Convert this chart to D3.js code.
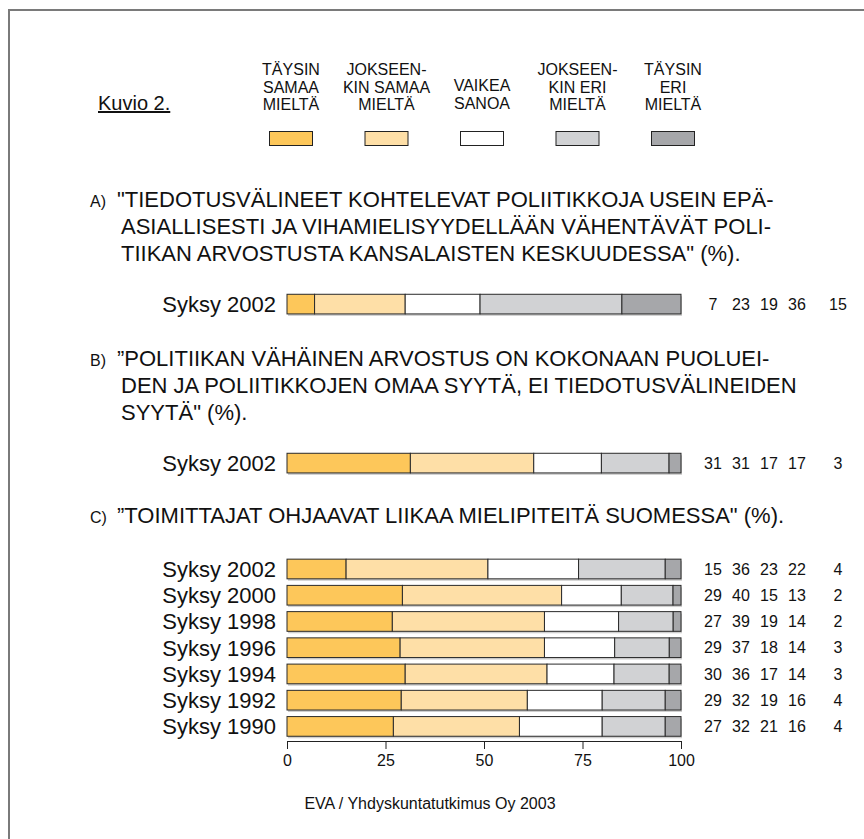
<!DOCTYPE html>
<meta charset="utf-8">
<body style="margin:0;background:#fff">
<svg id="chart" width="864" height="839"></svg>
</body>

<style>
text { font-family: "Liberation Sans", Arial, sans-serif; fill: #111; }
.legend text { font-size: 16px; }
.question text { font-size: 22px; }
.rowlabel { font-size: 22px; }
.num { font-size: 16px; }
.axis text { font-size: 16px; font-family: "Liberation Sans", Arial, sans-serif; fill: #111; }
.axis path, .axis line { stroke: #222; }
</style>

<script src="https://d3js.org/d3.v7.min.js"></script>
<script>

// vastausvaihtoehdot ja värit
var keys = ["taysinSamaa", "jokseenkinSamaa", "vaikea", "jokseenkinEri", "taysinEri"];
var legendLines = [
  ["TÄYSIN", "SAMAA", "MIELTÄ"],
  ["JOKSEEN-", "KIN SAMAA", "MIELTÄ"],
  ["VAIKEA", "SANOA"],
  ["JOKSEEN-", "KIN ERI", "MIELTÄ"],
  ["TÄYSIN", "ERI", "MIELTÄ"]
];
var colors = ["#fdc75a", "#fedfa7", "#ffffff", "#d1d2d4", "#a6a7aa"];

// kysymykset
var questionA = ["\"TIEDOTUSVÄLINEET KOHTELEVAT POLIITIKKOJA USEIN EPÄ-",
                 "ASIALLISESTI JA VIHAMIELISYYDELLÄÄN VÄHENTÄVÄT POLI-",
                 "TIIKAN ARVOSTUSTA KANSALAISTEN KESKUUDESSA\" (%)."];
var questionB = ["\u201dPOLITIIKAN VÄHÄINEN ARVOSTUS ON KOKONAAN PUOLUEI-",
                 "DEN JA POLIITIKKOJEN OMAA SYYTÄ, EI TIEDOTUSVÄLINEIDEN",
                 "SYYTÄ\" (%)."];
var questionC = ["\u201dTOIMITTAJAT OHJAAVAT LIIKAA MIELIPITEITÄ  SUOMESSA\" (%)."];

// data
var yearsA = ["Syksy 2002"];
var valuesA = [[7, 23, 19, 36, 15]];
var yearsB = ["Syksy 2002"];
var valuesB = [[31, 31, 17, 17, 3]];
var yearsC = ["Syksy 2002", "Syksy 2000", "Syksy 1998", "Syksy 1996", "Syksy 1994", "Syksy 1992", "Syksy 1990"];
var valuesC = [
  [15, 36, 23, 22, 4],
  [29, 40, 15, 13, 2],
  [27, 39, 19, 14, 2],
  [29, 37, 18, 14, 3],
  [30, 36, 17, 14, 3],
  [29, 32, 19, 16, 4],
  [27, 32, 21, 16, 4]
];
var ticks = [0, 25, 50, 75, 100];

var svg = d3.select("#chart");

// kehys
svg.append("path")
    .attr("d", "M9,900V10H900")
    .attr("fill", "none")
    .attr("stroke", "#7a7a7a")
    .attr("stroke-width", 2);

var x = d3.scaleLinear().domain([0, 100]).range([287, 681]);
var legendX = d3.scalePoint().domain(keys).range([291, 673]);
// lukujen sarakkeet, viimeinen hieman erillään
var numX = d3.scaleOrdinal().domain(keys).range([713, 741, 769, 797, 838]);

// otsikko
svg.append("text")
    .attr("x", 98).attr("y", 110)
    .style("font-size", "20px")
    .style("text-decoration", "underline")
    .text("Kuvio 2.");

// selite
var leg = svg.append("g").attr("class", "legend");
keys.forEach(function(k, i) {
  var lines = legendLines[i];
  var top = lines.length == 3 ? 75 : 91;
  lines.forEach(function(l, j) {
    leg.append("text")
        .attr("x", legendX(k)).attr("y", top + j * 17.5)
        .attr("text-anchor", "middle")
        .text(l);
  });
  leg.append("rect")
      .attr("x", legendX(k) - 21.5).attr("y", 131.5)
      .attr("width", 43).attr("height", 14)
      .attr("fill", colors[i])
      .attr("stroke", "#222");
});

function question(letter, lines, y0) {
  var g = svg.append("g").attr("class", "question");
  g.append("text").attr("x", 90).attr("y", y0).style("font-size", "16px").text(letter);
  lines.forEach(function(l, j) {
    g.append("text").attr("x", j == 0 ? 117 : 121).attr("y", y0 + j * 27).text(l);
  });
}

function bars(years, values, yTop) {
  var data = values.map(function(v, i) {
    var o = {year: years[i]};
    keys.forEach(function(k, j) { o[k] = v[j]; });
    return o;
  });
  var stack = d3.stack().keys(keys).offset(d3.stackOffsetExpand)(data);
  var y = d3.scaleBand().domain(years)
      .range([yTop, yTop + years.length * 26.2]).paddingInner(0.25).paddingOuter(0.12);

  var g = svg.append("g");
  // varjo
  g.selectAll(".shadow").data(data).enter().append("rect")
      .attr("x", x(0) + 1).attr("y", d => y(d.year) + 2)
      .attr("width", x(100) - x(0)).attr("height", y.bandwidth())
      .attr("fill", "#cfcfcf");

  g.selectAll(".layer").data(stack).enter().append("g")
      .attr("fill", (d, i) => colors[i])
    .selectAll("rect").data(d => d).enter().append("rect")
      .attr("x", d => x(d[0] * 100))
      .attr("y", d => y(d.data.year))
      .attr("width", d => x(d[1] * 100) - x(d[0] * 100))
      .attr("height", y.bandwidth())
      .attr("stroke", "#2a2a2a")
      .attr("stroke-width", 1);

  g.selectAll(".rowlabel").data(years).enter().append("text")
      .attr("class", "rowlabel")
      .attr("x", 276).attr("y", d => y(d) + y.bandwidth() / 2)
      .attr("dy", "0.36em")
      .attr("text-anchor", "end")
      .text(d => d);

  values.forEach(function(v, i) {
    v.forEach(function(n, j) {
      g.append("text").attr("class", "num")
          .attr("x", numX(keys[j])).attr("y", y(years[i]) + y.bandwidth() / 2)
          .attr("dy", "0.36em")
          .attr("text-anchor", "middle")
          .text(n);
    });
  });
  return y;
}

question("A)", questionA, 207);
bars(yearsA, valuesA, 291);
question("B)", questionB, 366);
bars(yearsB, valuesB, 450);
question("C)", questionC, 523);
var yC = bars(yearsC, valuesC, 556);

svg.append("g")
    .attr("class", "axis")
    .attr("transform", "translate(0,741)")
    .call(d3.axisBottom(x).tickValues(ticks).tickSize(8).tickPadding(6).tickSizeOuter(0));

svg.append("text")
    .attr("x", 430).attr("y", 809)
    .attr("text-anchor", "middle")
    .style("font-size", "16px")
    .text("EVA / Yhdyskuntatutkimus Oy 2003");

</script>
